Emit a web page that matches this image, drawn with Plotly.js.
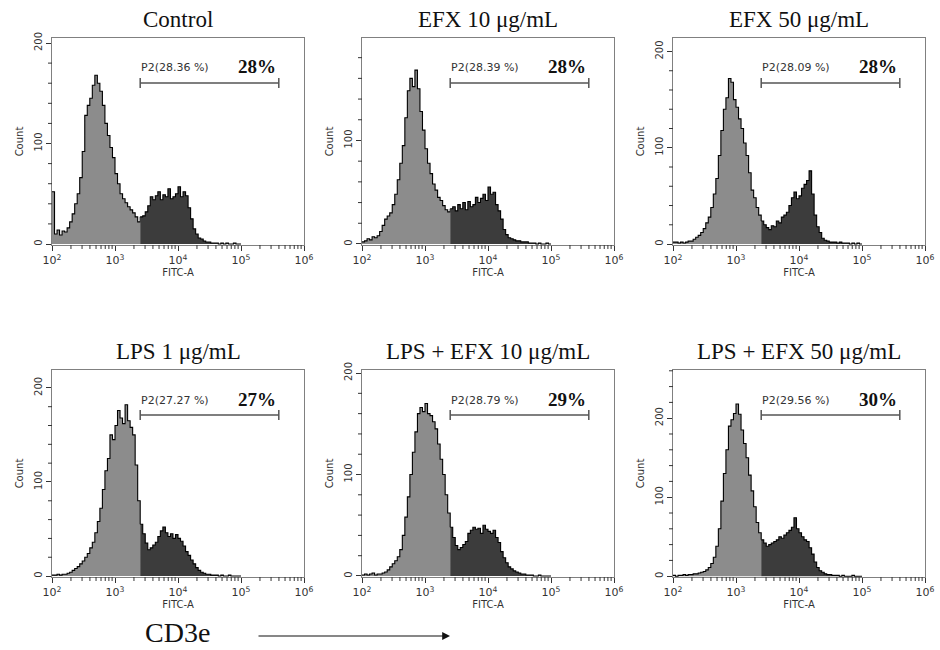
<!DOCTYPE html>
<html>
<head>
<meta charset="utf-8">
<script src="https://cdn.plot.ly/plotly-3.0.1.min.js"></script>
<style>html,body{margin:0;padding:0;background:#fff;}</style>
</head>
<body>
<div id="chart" style="width:940px;height:650px;"></div>
<script>
// ---------------- data ----------------
const panelTitles = ['Control', 'EFX 10 μg/mL', 'EFX 50 μg/mL',
                     'LPS 1 μg/mL', 'LPS + EFX 10 μg/mL', 'LPS + EFX 50 μg/mL'];
const gateLabels = ['P2(28.36 %)', 'P2(28.39 %)', 'P2(28.09 %)',
                    'P2(27.27 %)', 'P2(28.79 %)', 'P2(29.56 %)'];
const percentLabels = ['28%', '28%', '28%', '27%', '29%', '30%'];

// histogram bins on log10(FITC-A): left edges start at 10^2, width 0.04 decade
const binStartLog = 2.0;
const binWidthLog = 0.04;
// P2 gate (log10 FITC-A)
const gateStartLog = 3.40;
const gateEndLog = 5.60;

const countsControl = [
  52, 10, 14, 9, 13, 12, 16, 22, 30, 40,
  50, 66, 92, 128, 138, 145, 158, 168, 160, 152,
  138, 120, 108, 96, 86, 70, 60, 50, 45, 41,
  37, 34, 31, 27, 22,
  27, 28, 32, 38, 47, 44, 48, 52, 44, 49,
  47, 55, 45, 47, 50, 57, 47, 52, 48, 36,
  25, 15, 10, 6, 5, 3, 2, 2, 1, 1,
  1, 0, 1, 0, 1, 0, 0, 1, 0, 0];
const countsEfx10 = [
  2, 3, 5, 4, 7, 6, 8, 12, 18, 24,
  27, 30, 38, 48, 62, 78, 95, 122, 148, 160,
  152, 168, 150, 128, 110, 92, 78, 68, 58, 52,
  45, 42, 37, 33, 31,
  34, 36, 32, 38, 34, 40, 33, 41, 36, 38,
  45, 40, 44, 48, 42, 55, 48, 50, 38, 32,
  24, 14, 9, 6, 5, 4, 3, 3, 2, 2,
  2, 1, 1, 1, 0, 1, 0, 0, 1, 0];
const countsEfx50 = [
  2, 2, 1, 2, 1, 2, 3, 3, 5, 7,
  9, 12, 16, 22, 28, 38, 52, 68, 92, 118,
  140, 152, 172, 168, 150, 142, 130, 120, 105, 92,
  74, 56, 48, 38, 30,
  24, 20, 17, 15, 19, 18, 24, 22, 28, 30,
  33, 40, 48, 54, 47, 50, 58, 62, 66, 76,
  52, 30, 18, 12, 6, 4, 3, 2, 2, 2,
  1, 2, 1, 1, 1, 0, 1, 0, 1, 0];
const countsLps1 = [
  1, 1, 2, 1, 2, 2, 3, 4, 6, 8,
  10, 13, 16, 20, 24, 30, 36, 46, 58, 72,
  92, 112, 125, 150, 145, 160, 176, 168, 162, 182,
  165, 158, 150, 118, 80,
  55, 45, 35, 28, 30, 33, 36, 42, 48, 52,
  46, 42, 45, 40, 44, 40, 37, 32, 26, 22,
  17, 13, 9, 6, 4, 3, 2, 2, 1, 1,
  1, 0, 1, 0, 0, 1, 0, 0, 0, 0];
const countsLpsEfx10 = [
  1, 2, 1, 2, 3, 1, 2, 2, 3, 4,
  6, 9, 12, 15, 19, 26, 40, 58, 78, 100,
  122, 142, 160, 166, 162, 170, 160, 158, 152, 145,
  130, 115, 100, 80, 62,
  48, 38, 30, 26, 28, 31, 34, 42, 45, 48,
  46, 47, 42, 50, 46, 44, 42, 45, 38, 33,
  24, 18, 13, 9, 7, 5, 4, 3, 2, 2,
  1, 1, 1, 0, 0, 1, 0, 0, 0, 0];
const countsLpsEfx50 = [
  1, 0, 1, 1, 2, 1, 2, 2, 3, 3,
  4, 5, 6, 8, 11, 16, 24, 38, 60, 95,
  130, 160, 190, 198, 206, 218, 205, 185, 168, 150,
  128, 108, 88, 68, 55,
  46, 42, 38, 40, 42, 44, 46, 50, 48, 52,
  55, 58, 62, 74, 60, 55, 50, 46, 44, 36,
  28, 18, 11, 7, 5, 3, 2, 2, 1, 1,
  1, 0, 1, 0, 0, 0, 1, 0, 0, 0];

const panelCounts = [countsControl, countsEfx10, countsEfx50,
                     countsLps1, countsLpsEfx10, countsLpsEfx50];
const yAxisTop = [205, 199, 214, 219, 203, 261];

const xTickVals = [1e2, 1e3, 1e4, 1e5, 1e6];
const xTickText = ['10<sup>2</sup>', '10<sup>3</sup>', '10<sup>4</sup>', '10<sup>5</sup>', '10<sup>6</sup>'];
const xMinorTickVals = [
  200, 300, 400, 500, 600, 700, 800, 900,
  2000, 3000, 4000, 5000, 6000, 7000, 8000, 9000,
  20000, 30000, 40000, 50000, 60000, 70000, 80000, 90000,
  200000, 300000, 400000, 500000, 600000, 700000, 800000, 900000];
const yTickVals = [0, 100, 200];
const yMinorTickVals = [20, 40, 60, 80, 120, 140, 160, 180, 220, 240, 260];

// ---------------- layout geometry (pixels) ----------------
const W = 940, H = 650;
const colPx = [[52, 304], [362, 614], [673, 925]];
const rowPx = [[38, 245], [370, 577]];
const titleYPx = [19, 351];
const xLog0 = 2, xLog1 = 6, yMin = -1;

const lightFill = 'rgb(140,140,140)';
const darkFill = 'rgb(60,60,60)';
const sansFont = 'DejaVu Sans, Liberation Sans, Arial, sans-serif';
const serifFont = 'Liberation Serif, Times New Roman, serif';

const traces = [];
const layout = {
  width: W, height: H,
  margin: {l: 0, r: 0, t: 0, b: 0},
  paper_bgcolor: '#fff', plot_bgcolor: '#fff',
  showlegend: false,
  annotations: [], shapes: []
};

for (let p = 0; p < 6; p++) {
  const n = p + 1;
  const xs = n === 1 ? 'x' : 'x' + n;
  const ys = n === 1 ? 'y' : 'y' + n;
  const col = colPx[p % 3], row = rowPx[Math.floor(p / 3)];
  const pw = col[1] - col[0], ph = row[1] - row[0];
  const counts = panelCounts[p];

  const lx = [], ly = [], dx = [], dy = [];
  let gateIdx = -1;
  for (let i = 0; i < counts.length; i++) {
    const edge = binStartLog + i * binWidthLog;
    if (edge < gateStartLog - 1e-9) {
      lx.push(Math.pow(10, edge)); ly.push(counts[i]);
    } else {
      if (gateIdx < 0) gateIdx = i;
      dx.push(Math.pow(10, edge)); dy.push(counts[i]);
    }
  }
  lx.push(Math.pow(10, gateStartLog)); ly.push(counts[gateIdx]);
  const endEdge = binStartLog + counts.length * binWidthLog;
  dx.push(Math.pow(10, endEdge)); dy.push(counts[counts.length - 1]);

  traces.push({
    type: 'scatter', mode: 'lines', x: lx, y: ly, xaxis: xs, yaxis: ys,
    line: {shape: 'hv', color: '#000', width: 1.1}, fill: 'tozeroy', fillcolor: lightFill,
    hoverinfo: 'skip'
  });
  traces.push({
    type: 'scatter', mode: 'lines', x: dx, y: dy, xaxis: xs, yaxis: ys,
    line: {shape: 'hv', color: '#000', width: 1.1}, fill: 'tozeroy', fillcolor: darkFill,
    hoverinfo: 'skip'
  });

  layout['xaxis' + (n === 1 ? '' : n)] = {
    type: 'log', range: [xLog0, xLog1],
    domain: [col[0] / W, col[1] / W], anchor: ys,
    tickmode: 'array', tickvals: xTickVals, ticktext: xTickText,
    ticks: 'outside', ticklen: 5, tickwidth: 1, tickcolor: '#333',
    showline: true, linecolor: '#808080', linewidth: 1, mirror: true,
    showgrid: false, zeroline: false,
    tickfont: {family: sansFont, size: 11, color: '#333'},
    title: {text: 'FITC-A', font: {family: sansFont, size: 10, color: '#333'}, standoff: 1},
    fixedrange: true
  };
  layout['yaxis' + (n === 1 ? '' : n)] = {
    range: [yMin, yAxisTop[p]],
    domain: [1 - row[1] / H, 1 - row[0] / H], anchor: xs,
    tickmode: 'array', tickvals: yTickVals, tickangle: -90,
    ticks: 'outside', ticklen: 5, tickwidth: 1, tickcolor: '#333',
    showline: true, linecolor: '#808080', linewidth: 1, mirror: true,
    showgrid: false, zeroline: false,
    tickfont: {family: sansFont, size: 10, color: '#333'},
    title: {text: 'Count', font: {family: sansFont, size: 10, color: '#333'}, standoff: 7},
    fixedrange: true
  };

  // minor ticks (short lines just outside the axes)
  const minorLine = {color: '#333', width: 1};
  xMinorTickVals.forEach(v => {
    const xd = (Math.log10(v) - xLog0) / (xLog1 - xLog0);
    layout.shapes.push({type: 'line', xref: xs + ' domain', yref: ys + ' domain',
      x0: xd, x1: xd, y0: 0, y1: -4 / ph, line: minorLine});
  });
  yMinorTickVals.filter(v => v < yAxisTop[p]).forEach(v => {
    const yd = (v - yMin) / (yAxisTop[p] - yMin);
    layout.shapes.push({type: 'line', xref: xs + ' domain', yref: ys + ' domain',
      x0: 0, x1: -4 / pw, y0: yd, y1: yd, line: minorLine});
  });

  // panel title
  layout.annotations.push({
    xref: 'paper', yref: 'paper',
    x: (col[0] + col[1]) / 2 / W, y: 1 - titleYPx[Math.floor(p / 3)] / H,
    xanchor: 'center', yanchor: 'middle', showarrow: false,
    text: panelTitles[p], font: {family: serifFont, size: 23, color: '#111'}
  });
  // gate label
  const gx0 = (gateStartLog - xLog0) / (xLog1 - xLog0), gx1 = (gateEndLog - xLog0) / (xLog1 - xLog0);
  layout.annotations.push({
    xref: xs + ' domain', yref: ys + ' domain',
    x: gx0 - 0.005, y: 1 - 30 / ph, xanchor: 'left', yanchor: 'middle', showarrow: false,
    text: gateLabels[p], font: {family: sansFont, size: 11, color: '#333'}
  });
  layout.annotations.push({
    xref: xs + ' domain', yref: ys + ' domain',
    x: 0.813, y: 1 - 29 / ph, xanchor: 'center', yanchor: 'middle', showarrow: false,
    text: '<b>' + percentLabels[p] + '</b>', font: {family: serifFont, size: 19, color: '#111'}
  });
  // gate bar
  const gy = 1 - 45 / ph, cap = 5 / ph;
  const gateLine = {color: '#555', width: 1.5};
  layout.shapes.push({type: 'line', xref: xs + ' domain', yref: ys + ' domain',
    x0: gx0, x1: gx1, y0: gy, y1: gy, line: gateLine});
  layout.shapes.push({type: 'line', xref: xs + ' domain', yref: ys + ' domain',
    x0: gx0, x1: gx0, y0: gy - cap, y1: gy + cap, line: gateLine});
  layout.shapes.push({type: 'line', xref: xs + ' domain', yref: ys + ' domain',
    x0: gx1, x1: gx1, y0: gy - cap, y1: gy + cap, line: gateLine});
}

// bottom "CD3e" label and arrow
layout.annotations.push({
  xref: 'paper', yref: 'paper', x: 177 / W, y: 1 - 632 / H,
  xanchor: 'center', yanchor: 'middle', showarrow: false,
  text: 'CD3e', font: {family: serifFont, size: 28, color: '#111'}
});
layout.annotations.push({
  xref: 'paper', yref: 'paper', x: 450 / W, y: 1 - 636 / H,
  ax: -193, ay: 0, text: '', showarrow: true,
  arrowhead: 2, arrowsize: 1.3, arrowwidth: 1.2, arrowcolor: '#111'
});

Plotly.newPlot('chart', traces, layout, {staticPlot: true, displayModeBar: false});
</script>
</body>
</html>
